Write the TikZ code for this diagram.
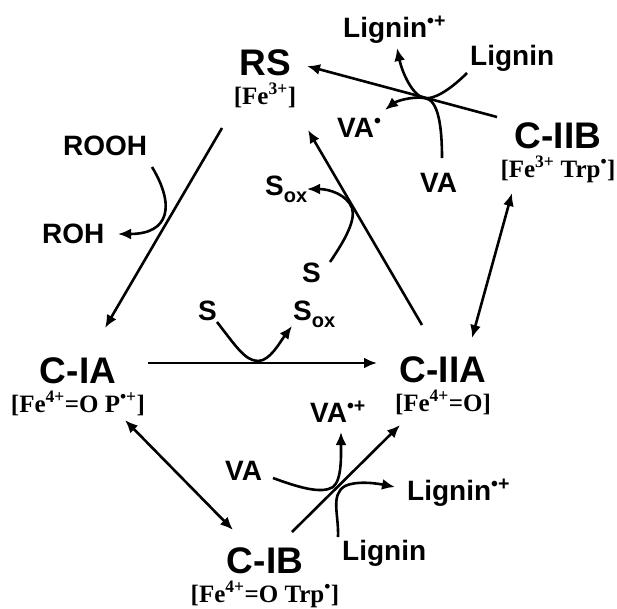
\documentclass[tikz,border=0pt]{standalone}
\usepackage{fontspec}
\setmainfont{Liberation Sans}
\newfontfamily\hemefont{Liberation Serif}
\usetikzlibrary{arrows.meta}
\newcommand\oxsub{\raisebox{-7pt}{\fontsize{20}{20}\selectfont ox}}

\begin{document}
\begin{tikzpicture}
[x=1pt,y=-1pt,
  enzymedecorate/.style={inner sep=0pt,anchor=base,font=\fontsize{37}{37}\selectfont\bfseries},%
  hemedecorate/.style={inner sep=0pt,anchor=base,font=\hemefont\fontsize{25}{25}\selectfont\bfseries},%
  substratedecorate/.style={inner sep=0pt,anchor=base west,font=\fontsize{28}{28}\selectfont\bfseries},%
  linedecorate/.style={-{Latex[length=13pt,width=11pt]},line width=2.6pt},%
  twowaydecorate/.style={{Latex[length=13pt,width=11pt]}-{Latex[length=13pt,width=11pt]},line width=2.6pt}]
\useasboundingbox (0,0) rectangle (617,608);
%% enzyme states
\foreach \nodename/\x/\y/\name/\heme in {
  rs/265/75/{RS}/{[Fe\textsuperscript{3+}]},
  ciib/558/148/{C-IIB}/{[Fe\textsuperscript{3+} Trp\textsuperscript{\textbullet}]},
  ciia/443/382/{C-IIA}/{[Fe\textsuperscript{4+}=O]},
  cia/78/383/{C-IA}/{[Fe\textsuperscript{4+}=O P\textsuperscript{\textbullet+}]},
  cib/265/573/{C-IB}/{[Fe\textsuperscript{4+}=O Trp\textsuperscript{\textbullet}]}} {
  \node (\nodename) at (\x,\y) [enzymedecorate] {\name};
  \node (\nodename heme) at (\x,\y+29) [hemedecorate] {\heme};
}
%% substrates and products
\foreach \nodename/\x/\y/\name in {
  rooh/63/155/ROOH, roh/42/243/ROH,
  sa/198/320/S, soxa/293/320/{S\oxsub},
  sb/302/282/S, soxb/265/195/{S\oxsub},
  lignina/470/65/Lignin, ligninoxa/343/37/{Lignin\textsuperscript{\textbullet+}},
  vaa/420/192/VA, vaoxa/337/137/{VA\textsuperscript{\textbullet}},
  vab/225/480/VA, vaoxb/310/422/{VA\textsuperscript{\textbullet+}},
  ligninb/342/560/Lignin, ligninoxb/407/500/{Lignin\textsuperscript{\textbullet+}}}
  \node (\nodename) at (\x,\y) [substratedecorate] {\name};
%% arrow ends
\foreach \nodename/\x/\y in {
  rsout/222/128, ciain/105/328, ciaout/148/363, ciiain/377/363,
  ciiaout/422/325, rsin/308/130, ciibout/497/117, rsinb/307/66,
  ciiaend/472/338, ciibend/512/193, ciaend/125/420, cibend/233/530,
  cibout/292/532, ciiainb/400/425}
  \coordinate (\nodename) at (\x,\y);
%% cycle
\path
\foreach \startnode/\endnode in {rsout/ciain, ciaout/ciiain, ciiaout/rsin,
  ciibout/rsinb, cibout/ciiainb} {
  (\startnode) edge[linedecorate] (\endnode)
};
\path
\foreach \startnode/\endnode in {ciiaend/ciibend, ciaend/cibend} {
  (\startnode) edge[twowaydecorate] (\endnode)
};
%% side reactions
\draw[linedecorate] (152,167) .. controls (175,205) and (170,234) .. (118,234);
\draw[linedecorate] (217,322) .. controls (235,345) and (245,361) .. (258,361)
  .. controls (270,361) and (280,342) .. (292,326);
\draw[linedecorate] (330,262) .. controls (345,240) and (356,220) .. (352,208)
  .. controls (347,195) and (330,189) .. (307,189);
\draw[linedecorate] (467,73) .. controls (448,92) and (432,100) .. (424,98)
  .. controls (412,95) and (402,72) .. (397,48);
\draw[linedecorate] (442,158) .. controls (442,125) and (438,100) .. (425,98)
  .. controls (410,96) and (395,102) .. (385,110);
\draw[linedecorate] (273,478) .. controls (300,488) and (322,494) .. (333,487)
  .. controls (342,480) and (341,455) .. (341,432);
\draw[linedecorate] (338,537) .. controls (339,515) and (330,495) .. (345,486)
  .. controls (358,480) and (380,484) .. (395,487);
\end{tikzpicture}
\end{document}
